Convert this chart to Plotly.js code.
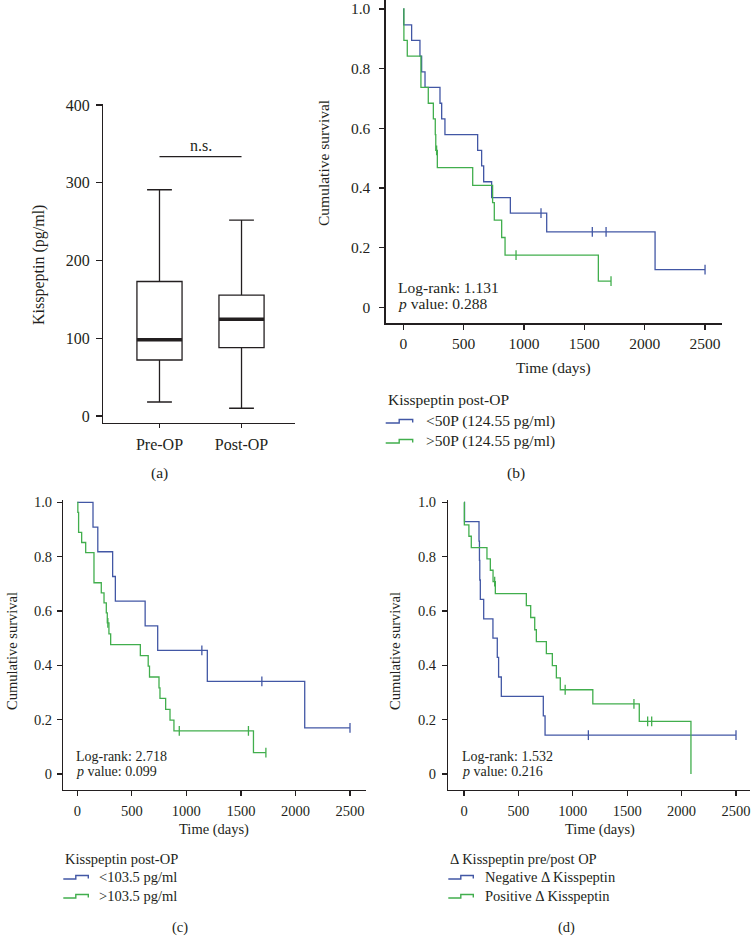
<!DOCTYPE html>
<html>
<head>
<meta charset="utf-8">
<script src="https://cdn.plot.ly/plotly-3.0.1.min.js"></script>
<style>html,body{margin:0;padding:0;background:#fff;}#chart{width:752px;height:949px;}</style>
</head>
<body>
<div id="chart"></div>
<script>
// ---------- Panel (a): box plot summary values ----------
const boxCategories = ['Pre-OP', 'Post-OP'];
const boxLowerWhisker = [18, 10];
const boxQ1 = [72, 88];
const boxMedian = [98, 124.55];
const boxQ3 = [173, 155.5];
const boxUpperWhisker = [291, 252];
const nsBracketLevel = 333.5;
const boxTicks = [0, 100, 200, 300, 400];

// ---------- Kaplan-Meier curves (time in days, cumulative survival) ----------
const timeTicks = [0, 500, 1000, 1500, 2000, 2500];
const survTicks = [0, 0.2, 0.4, 0.6, 0.8, 1.0];
const survTickText = ['0', '0.2', '0.4', '0.6', '0.8', '1.0'];

// (b) Kisspeptin post-OP, 50th percentile split
const bLegendTitle = 'Kisspeptin post-OP';
const bGroupNames = ['&lt;50P (124.55 pg/ml)', '&gt;50P (124.55 pg/ml)'];
const bLowTime = [0, 3, 69, 138, 152, 180, 304, 318, 345, 616, 649, 666, 732, 887, 1188, 2086, 2500];
const bLowSurv = [1, 0.947, 0.895, 0.842, 0.789, 0.737, 0.684, 0.632, 0.579, 0.526, 0.474, 0.421, 0.368, 0.316, 0.253, 0.126, 0.126];
const bLowCensor = [1141, 1566, 1680, 2500];
const bHighTime = [0, 5, 33, 146, 207, 249, 265, 269, 282, 575, 740, 754, 815, 843, 1616, 1721];
const bHighSurv = [1, 0.895, 0.842, 0.737, 0.684, 0.632, 0.579, 0.526, 0.468, 0.409, 0.351, 0.292, 0.234, 0.175, 0.088, 0.088];
const bHighCensor = [276, 934, 1721];
const bStats = ['Log-rank: 1.131', '<i>p</i> value: 0.288'];

// (c) Kisspeptin post-OP, 103.5 pg/ml split
const cLegendTitle = 'Kisspeptin post-OP';
const cGroupNames = ['&lt;103.5 pg/ml', '&gt;103.5 pg/ml'];
const cLowTime = [0, 144, 188, 324, 349, 622, 737, 1192, 2085, 2500];
const cLowSurv = [1, 0.909, 0.818, 0.727, 0.636, 0.545, 0.455, 0.341, 0.170, 0.170];
const cLowCensor = [1142, 1692, 2500];
const cHighTime = [0, 5, 12, 40, 77, 153, 220, 245, 266, 275, 290, 306, 578, 650, 662, 749, 758, 810, 850, 886, 1615, 1729];
const cHighSurv = [1, 0.963, 0.889, 0.852, 0.815, 0.704, 0.667, 0.630, 0.593, 0.556, 0.516, 0.476, 0.436, 0.397, 0.357, 0.317, 0.278, 0.238, 0.198, 0.159, 0.079, 0.079];
const cHighCensor = [280, 935, 1569, 1729];
const cStats = ['Log-rank: 2.718', '<i>p</i> value: 0.099'];

// (d) Delta Kisspeptin pre/post OP
const dLegendTitle = 'Δ Kisspeptin pre/post OP';
const dGroupNames = ['Negative Δ Kisspeptin', 'Positive Δ Kisspeptin'];
const dNegTime = [0, 5, 138, 142, 145, 150, 181, 266, 306, 318, 343, 729, 745, 2500];
const dNegSurv = [1, 0.929, 0.857, 0.786, 0.714, 0.643, 0.571, 0.5, 0.429, 0.357, 0.286, 0.214, 0.143, 0.143];
const dNegCensor = [1143, 2500];
const dPosTime = [0, 3, 45, 67, 211, 242, 267, 288, 573, 613, 650, 665, 757, 812, 849, 885, 1184, 1611, 2086];
const dPosSurv = [1, 0.917, 0.875, 0.833, 0.792, 0.75, 0.708, 0.664, 0.62, 0.576, 0.531, 0.487, 0.443, 0.399, 0.354, 0.31, 0.258, 0.194, 0];
const dPosCensor = [282, 930, 1562, 1688, 1725];
const dStats = ['Log-rank: 1.532', '<i>p</i> value: 0.216'];

// ---------- styling ----------
const FONT = 'Liberation Serif, DejaVu Serif, serif';
const INK = '#231f20';
const BLUE = '#4257a5';
const GREEN = '#41ae4d';
const W = 752, H = 949;
const px = v => v / W;
const py = v => 1 - v / H;

function stepAt(T, S, t) {
  let v = S[0];
  for (let i = 0; i < T.length; i++) if (T[i] <= t) v = S[i];
  return v;
}

const traces = [];
const shapes = [];
const annotations = [];

// Panel (a) boxes
const boxW = 0.55;
boxCategories.forEach((c, i) => {
  traces.push({
    type: 'box', x: [i], name: c,
    q1: [boxQ1[i]], median: [boxMedian[i]], q3: [boxQ3[i]],
    lowerfence: [boxLowerWhisker[i]], upperfence: [boxUpperWhisker[i]],
    width: boxW, whiskerwidth: 0.55, fillcolor: '#ffffff',
    line: { color: INK, width: 1.3 }, boxpoints: false,
    xaxis: 'x', yaxis: 'y', showlegend: false, hoverinfo: 'skip'
  });
  shapes.push({ type: 'line', xref: 'x', yref: 'y', x0: i - boxW / 2, x1: i + boxW / 2,
    y0: boxMedian[i], y1: boxMedian[i], line: { color: INK, width: 3.5 } });
});
shapes.push({ type: 'line', xref: 'x', yref: 'y', x0: 0, x1: 1, y0: nsBracketLevel, y1: nsBracketLevel,
  line: { color: INK, width: 1.3 } });
annotations.push({ xref: 'x', yref: 'y', x: 0.5, y: nsBracketLevel, yanchor: 'bottom', yshift: 1,
  text: 'n.s.', showarrow: false, font: { family: FONT, size: 16, color: INK } });

// KM traces
function km(T, S, C, color, name, xa, ya) {
  traces.push({ type: 'scatter', mode: 'lines', x: T, y: S, name: name,
    line: { shape: 'hv', color: color, width: 1.3 }, xaxis: xa, yaxis: ya, showlegend: false, hoverinfo: 'skip' });
  traces.push({ type: 'scatter', mode: 'markers', x: C, y: C.map(t => stepAt(T, S, t)),
    marker: { symbol: 'line-ns', size: 7, color: color, line: { color: color, width: 1.3 } },
    xaxis: xa, yaxis: ya, showlegend: false, hoverinfo: 'skip' });
}
km(bLowTime, bLowSurv, bLowCensor, BLUE, bGroupNames[0], 'x2', 'y2');
km(bHighTime, bHighSurv, bHighCensor, GREEN, bGroupNames[1], 'x2', 'y2');
km(cLowTime, cLowSurv, cLowCensor, BLUE, cGroupNames[0], 'x3', 'y3');
km(cHighTime, cHighSurv, cHighCensor, GREEN, cGroupNames[1], 'x3', 'y3');
km(dNegTime, dNegSurv, dNegCensor, BLUE, dGroupNames[0], 'x4', 'y4');
km(dPosTime, dPosSurv, dPosCensor, GREEN, dGroupNames[1], 'x4', 'y4');

function ax(extra, size, standoff) {
  return Object.assign({
    showline: true, linecolor: INK, linewidth: 1.3, ticks: 'outside', ticklen: 5, tickwidth: 1.2,
    tickcolor: INK, showgrid: false, zeroline: false, fixedrange: true, automargin: false,
    ticklabelstandoff: standoff, ticklabeloverflow: 'allow',
    tickfont: { family: FONT, size: size, color: INK }
  }, extra);
}

function txt(x, y, text, size, opts) {
  annotations.push(Object.assign({ xref: 'paper', yref: 'paper', x: px(x), y: py(y), text: text,
    showarrow: false, xanchor: 'center', yanchor: 'middle', font: { family: FONT, size: size, color: INK } }, opts || {}));
}

// axis titles, labels
txt(39, 265, 'Kisspeptin (pg/ml)', 16, { textangle: -90 });
txt(323, 163, 'Cumulative survival', 15.5, { textangle: -90 });
txt(12, 651, 'Cumulative survival', 14.5, { textangle: -90 });
txt(395, 651, 'Cumulative survival', 14.5, { textangle: -90 });
txt(553, 368, 'Time (days)', 15.5);
txt(214, 829, 'Time (days)', 14.5);
txt(600, 829, 'Time (days)', 14.5);
txt(159, 473, '(a)', 15.5);
txt(516, 473, '(b)', 15.5);
txt(180, 927, '(c)', 14.5);
txt(566, 927, '(d)', 14.5);
txt(396, 287, bStats[0], 15.5, { xanchor: 'left' });
txt(396, 303, bStats[1], 15.5, { xanchor: 'left' });
txt(74, 756, cStats[0], 14, { xanchor: 'left' });
txt(74, 771, cStats[1], 14, { xanchor: 'left' });
txt(460, 756, dStats[0], 14, { xanchor: 'left' });
txt(460, 771, dStats[1], 14, { xanchor: 'left' });

// legends (title + step-shaped key icons)
function legendBlock(x0, yTitle, yItems, iconW, textX, title, names, size) {
  txt(x0, yTitle, title, size, { xanchor: 'left' });
  const cols = [BLUE, GREEN];
  names.forEach((n, i) => {
    const yc = yItems[i];
    const xm = x0 + iconW * 0.5, x1 = x0 + iconW;
    shapes.push({ type: 'path', xref: 'paper', yref: 'paper',
      path: `M${px(x0)},${py(yc + 2)} L${px(xm)},${py(yc + 2)} L${px(xm)},${py(yc - 1.5)} L${px(x1)},${py(yc - 1.5)} L${px(x1)},${py(yc + 1.5)}`,
      line: { color: cols[i], width: 1.4 } });
    txt(textX, yc, names[i], size, { xanchor: 'left' });
  });
}
legendBlock(385.7, 399, [421, 441], 27, 424, bLegendTitle, bGroupNames, 15.5);
legendBlock(63.3, 859, [877, 896], 25, 97, cLegendTitle, cGroupNames, 14.5);
legendBlock(448.3, 859, [877, 896], 25, 482.7, dLegendTitle, dGroupNames, 14.5);

const layout = {
  width: W, height: H, autosize: false,
  margin: { l: 0, r: 0, t: 0, b: 0, pad: 0 },
  paper_bgcolor: '#ffffff', plot_bgcolor: '#ffffff',
  font: { family: FONT, color: INK },
  showlegend: false,
  xaxis: ax({ domain: [px(103.3), px(295)], range: [-0.685, 1.652], tickvals: boxCategories.map((c, i) => i),
    ticktext: boxCategories, anchor: 'y', ticklen: 4 }, 16, 2),
  yaxis: ax({ domain: [py(423), py(104)], range: [-9, 401.3], tickvals: boxTicks, anchor: 'x', ticklen: 6 }, 16, 3),
  xaxis2: ax({ domain: [px(385.7), px(721.7)], range: [-145.8, 2638], tickvals: timeTicks, anchor: 'y2' }, 15.5, 1),
  yaxis2: ax({ domain: [py(323.3), 1], range: [-0.0536, 1.0302], tickvals: survTicks, ticktext: survTickText, anchor: 'x2' }, 15.5, 6),
  xaxis3: ax({ domain: [px(63.3), px(365.7)], range: [-128.3, 2644], tickvals: timeTicks, anchor: 'y3' }, 14.5, 2),
  yaxis3: ax({ domain: [py(790), py(500)], range: [-0.0589, 1.0085], tickvals: survTicks, ticktext: survTickText, anchor: 'x3' }, 14.5, 2),
  xaxis4: ax({ domain: [px(448.3), px(750)], range: [-144.3, 2628.7], tickvals: timeTicks, anchor: 'y4' }, 14.5, 2),
  yaxis4: ax({ domain: [py(790), py(500)], range: [-0.0589, 1.0085], tickvals: survTicks, ticktext: survTickText, anchor: 'x4' }, 14.5, 3),
  shapes: shapes,
  annotations: annotations
};

Plotly.newPlot('chart', traces, layout, { staticPlot: true, displayModeBar: false });
</script>
</body>
</html>
